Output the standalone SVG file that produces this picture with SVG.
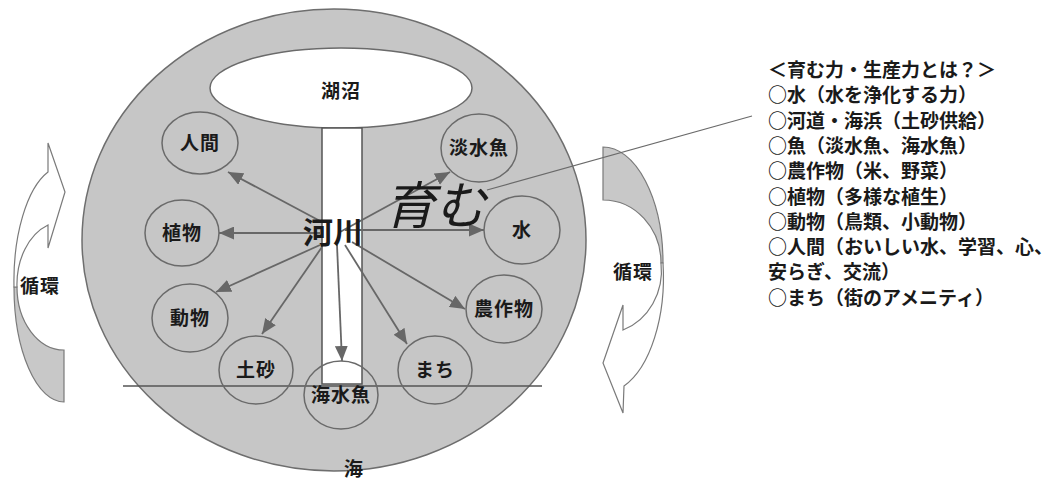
<svg xmlns="http://www.w3.org/2000/svg" width="1055" height="480" viewBox="0 0 1055 480">
<style>
text{font-family:"Noto Sans CJK JP","Noto Sans CJK SC",sans-serif;fill:#1a1a1a;text-anchor:middle;font-weight:700}
.lbl{font-size:19px;letter-spacing:1px}
.node{fill:none;stroke:#6a6a6a;stroke-width:1.5}
.arr{stroke:#676767;stroke-width:1.8;fill:none;marker-end:url(#ah)}
.blk{font-size:19px;text-anchor:start}
.cyc{stroke:#7a7a7a;stroke-width:1.2}
</style>
<defs>
<marker id="ah" viewBox="0 0 14 12" refX="14" refY="6" markerWidth="15" markerHeight="13" markerUnits="userSpaceOnUse" orient="auto">
<path d="M0,0 L14,6 L0,12 Z" fill="#676767"/>
</marker>
</defs>
<rect width="1055" height="480" fill="#fff"/>

<g id="basin">
<ellipse cx="334" cy="240" rx="252" ry="231" fill="#c6c6c6" stroke="#6e6e6e" stroke-width="1.5"/>
<text x="354" y="476" class="lbl">海</text>
</g>
<g id="lake">
<ellipse cx="341" cy="88" rx="131" ry="40" fill="#fff" stroke="#6a6a6a" stroke-width="1.5"/>
<text x="341" y="98" class="lbl">湖沼</text>
</g>
<g id="river">
<rect x="322" y="128" width="40" height="256" fill="#fff" stroke="#555" stroke-width="1.5"/>
</g>
<g id="coast">
<line x1="123" y1="386" x2="542" y2="386" stroke="#555" stroke-width="1.5"/>
</g>

<g id="cycle-left">
<path d="M14,287 A50,115 0 0 0 64,402 L64,350 A47,63 0 0 1 17,287 Z" fill="#c8c8c8" class="cyc"/>
<path d="M14,287 A50,115 0 0 1 48,172 L48,143 L65,192 L48,248 L48,225 A47,63 0 0 0 17,287 Z" fill="#fff" class="cyc"/>
<text x="40" y="293" class="lbl">循環</text>
</g>
<g id="cycle-right">
<path d="M603,147 A60,116 0 0 1 663,263 L661,263 A58,63 0 0 0 603,200 Z" fill="#c8c8c8" class="cyc"/>
<path d="M663,263 A60,116 0 0 1 624,386 L623,413 L603,363 L623,305 L623,330 A58,63 0 0 0 661,263 Z" fill="#fff" class="cyc"/>
<text x="633" y="279" class="lbl">循環</text>
</g>

<g id="connectors">
<line class="arr" x1="322" y1="222" x2="228" y2="172"/>
<line class="arr" x1="320" y1="233" x2="219" y2="233"/>
<line class="arr" x1="340" y1="232" x2="450" y2="172"/>
<line class="arr" x1="345" y1="230" x2="484" y2="230"/>
<line class="arr" x1="320" y1="245" x2="216" y2="292"/>
<line class="arr" x1="322" y1="247" x2="262" y2="334"/>
<line class="arr" x1="337" y1="245" x2="342" y2="361"/>
<line class="arr" x1="345" y1="245" x2="407" y2="344"/>
<line class="arr" x1="352" y1="242" x2="465" y2="309"/>
<line x1="487" y1="190" x2="752" y2="116" stroke="#6a6a6a" stroke-width="1.2"/>
</g>

<g id="n-ningen"><ellipse class="node" cx="200" cy="143" rx="38" ry="31"/><text x="200" y="150" class="lbl">人間</text></g>
<g id="n-shokubutsu"><ellipse class="node" cx="182" cy="233" rx="37" ry="33"/><text x="182" y="240" class="lbl">植物</text></g>
<g id="n-doubutsu"><ellipse class="node" cx="190" cy="318" rx="38" ry="34"/><text x="190" y="325" class="lbl">動物</text></g>
<g id="n-dosha"><ellipse class="node" cx="256" cy="370" rx="37" ry="34"/><text x="256" y="377" class="lbl">土砂</text></g>
<g id="n-kaisuigyo"><ellipse class="node" cx="341" cy="395" rx="37" ry="34"/><text x="341" y="402" class="lbl">海水魚</text></g>
<g id="n-machi"><ellipse class="node" cx="435" cy="370" rx="37" ry="34"/><text x="435" y="377" class="lbl">まち</text></g>
<g id="n-nousakubutsu"><ellipse class="node" cx="504" cy="309" rx="38" ry="34"/><text x="504" y="316" class="lbl">農作物</text></g>
<g id="n-mizu"><ellipse class="node" cx="522" cy="230" rx="38" ry="34"/><text x="522" y="237" class="lbl">水</text></g>
<g id="n-tansuigyo"><ellipse class="node" cx="479" cy="148" rx="38" ry="34"/><text x="479" y="155" class="lbl">淡水魚</text></g>

<g id="center-labels">
<text x="333" y="243" style="font-size:30px">河川</text>
<text x="435" y="224" style="font-size:51px;font-style:italic;font-weight:400">育む</text>
</g>

<g id="legend">
<text class="blk" x="768" y="77">＜育む力・生産力とは？＞</text>
<text class="blk" x="768" y="102">○水（水を浄化する力）</text>
<text class="blk" x="768" y="128">○河道・海浜（土砂供給）</text>
<text class="blk" x="768" y="153">○魚（淡水魚、海水魚）</text>
<text class="blk" x="768" y="178">○農作物（米、野菜）</text>
<text class="blk" x="768" y="204">○植物（多様な植生）</text>
<text class="blk" x="768" y="229">○動物（鳥類、小動物）</text>
<text class="blk" x="768" y="254">○人間（おいしい水、学習、心、</text>
<text class="blk" x="768" y="279">安らぎ、交流）</text>
<text class="blk" x="768" y="305">○まち（街のアメニティ）</text>
</g>
</svg>
